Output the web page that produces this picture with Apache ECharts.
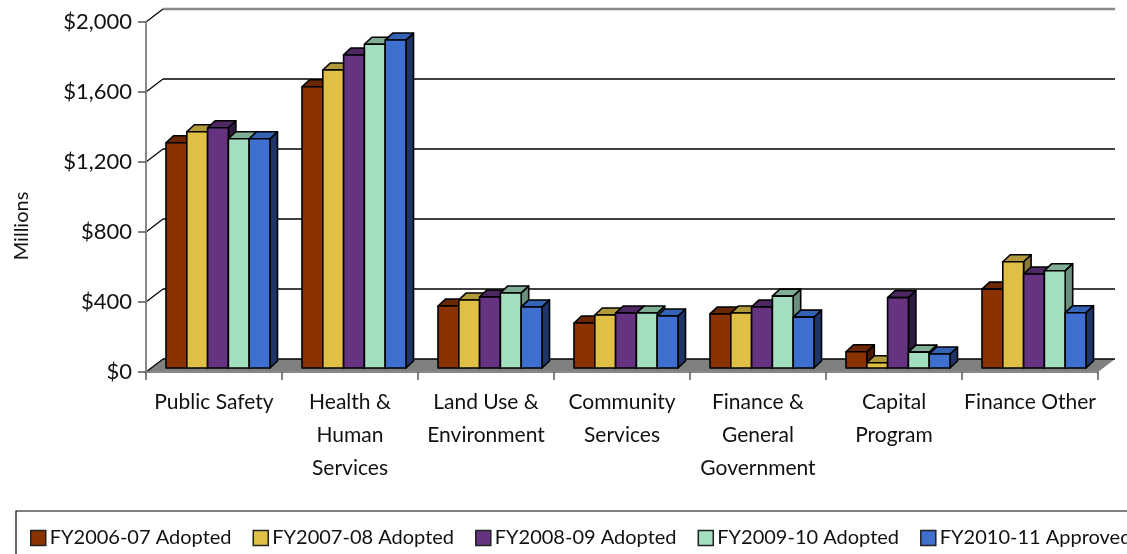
<!DOCTYPE html>
<html><head><meta charset="utf-8">
<style>html,body{margin:0;padding:0;background:#fff}#c{width:1127px;height:554px}</style>
<script src="https://cdn.jsdelivr.net/npm/echarts@6/dist/echarts.min.js"></script>
</head><body><div id="c"></div>
<script>
const categories = ['Public Safety','Health &\nHuman\nServices','Land Use &\nEnvironment','Community\nServices','Finance &\nGeneral\nGovernment','Capital\nProgram','Finance Other'];
const fy0607 = [1287,1607,354,257,309,93,451];
const fy0708 = [1350,1703,389,303,314,30,607];
const fy0809 = [1373,1789,406,314,349,402,537];
const fy0910 = [1310,1850,429,314,411,91,556];
const fy1011 = [1310,1874,349,297,291,80,316];
const wallTicks = [0,400,800,1200,1600,2000];
const seriesNames = ['FY2006-07 Adopted','FY2007-08 Adopted','FY2008-09 Adopted','FY2009-10 Adopted','FY2010-11 Approved'];
const seriesValues = [fy0607,fy0708,fy0809,fy0910,fy1011];
const faceColors = ['#8B3300','#DFBF45','#653380','#A3DEBF','#3F6FCF'];
const topColors  = ['#6B2800','#B09A3C','#4E2862','#7FAE95','#3462B4'];
const sideColors = ['#4A1B00','#8A7A3E','#2E1A3C','#6A8F7B','#1F3468'];

const font = 'Lato';
const chart = echarts.init(document.getElementById('c'), null, {renderer:'canvas'});
const BW = 20.8, DX = 7.5, DY = 7, LIFT = 4, SHIFT = 4;
const WX = 17, WY = 13;

function poly(points, fill, z2){
  return {type:'polygon', shape:{points}, z2,
    style:{fill, stroke:'#000', lineWidth:1.6, lineJoin:'round'}};
}
function barRender(si){
  return function(params, api){
    const c = api.coord([api.value(0), api.value(1)]);
    const y0 = api.coord([api.value(0), 0])[1] - LIFT;
    const x = c[0] + SHIFT + (si - 2.5) * BW;
    const y = c[1] - LIFT;
    const r = x + BW;
    return {type:'group', children:[
      poly([[r,y],[r+DX,y-DY],[r+DX,y0-DY],[r,y0]], sideColors[si], 1),
      poly([[x,y],[x+DX,y-DY],[r+DX,y-DY],[r,y]], topColors[si], 1),
      poly([[x,y],[r,y],[r,y0],[x,y0]], faceColors[si], 2)
    ]};
  };
}
function wallRender(params, api){
  const v = api.value(0);
  const cs = params.coordSys;
  const y = api.coord([0, v])[1];
  const top = v === wallTicks[wallTicks.length-1];
  const stroke = top ? '#888' : '#000';
  const w = top ? 2.5 : 1.4;
  const ln = (x1,y1,x2,y2,s,wd)=>({type:'line', shape:{x1,y1,x2,y2}, style:{stroke:s,lineWidth:wd}});
  const children = [];
  if (v === 0) {
    children.push({type:'polygon', shape:{points:[[cs.x,y],[cs.x+WX,y-WY],[cs.x+cs.width+WX,y-WY],[cs.x+cs.width,y]]},
      style:{fill:'#808080', stroke:'none'}});
  }
  children.push(ln(cs.x,y,cs.x+WX,y-WY,'#000',1.2));
  children.push(ln(cs.x+WX,y-WY,cs.x+cs.width+WX,y-WY,stroke,w));
  return {type:'group', children};
}
const series = [{
  type:'custom', silent:true, clip:false, z:1,
  data: wallTicks.map(v=>[v]), encode:{y:0}, renderItem: wallRender
}];
seriesNames.forEach((name,si)=>{
  series.push({
    type:'custom', name, clip:false, z:3+si, silent:true,
    itemStyle:{color:faceColors[si]},
    encode:{x:0,y:1},
    data: seriesValues[si].map((v,i)=>[i,v]),
    renderItem: barRender(si)
  });
});
chart.setOption({
  animation:false,
  backgroundColor:'#fff',
  textStyle:{fontFamily:font},
  grid:{left:146, top:22, width:952, height:350, containLabel:false, outerBoundsMode:'none'},
  xAxis:{type:'category', data:categories, boundaryGap:true,
    axisLine:{lineStyle:{color:'#888',width:2}},
    axisTick:{show:true, length:8, interval:0, lineStyle:{color:'#555',width:1.5}},
    axisLabel:{interval:0, hideOverlap:false, color:'#111', fontFamily:font, fontSize:21, lineHeight:33, margin:14},
    z:2},
  yAxis:{type:'value', min:0, max:2000, interval:400, name:'Millions', nameLocation:'middle', nameGap:114,
    nameTextStyle:{color:'#111', fontFamily:font, fontSize:20, padding:[0,58,0,0]},
    axisLine:{show:true, lineStyle:{color:'#888',width:2}},
    axisTick:{show:true, length:8, lineStyle:{color:'#555',width:1.5}},
    splitLine:{show:false},
    axisLabel:{color:'#111', fontFamily:font, fontSize:22, margin:14,
      formatter:v=>'$'+v.toLocaleString('en-US')},
    z:2},
  legend:{data:seriesNames, left:16, top:511, width:1300, orient:'horizontal', align:'left',
    padding:[17,0,30,14], borderColor:'#000', borderWidth:1.2,
    icon:'rect', itemWidth:15, itemHeight:15, itemGap:21, selectedMode:false,
    itemStyle:{borderColor:'#222', borderWidth:1.5},
    textStyle:{color:'#111', fontFamily:font, fontSize:20, padding:[0,0,0,-1]}},
  series
});
</script></body></html>
